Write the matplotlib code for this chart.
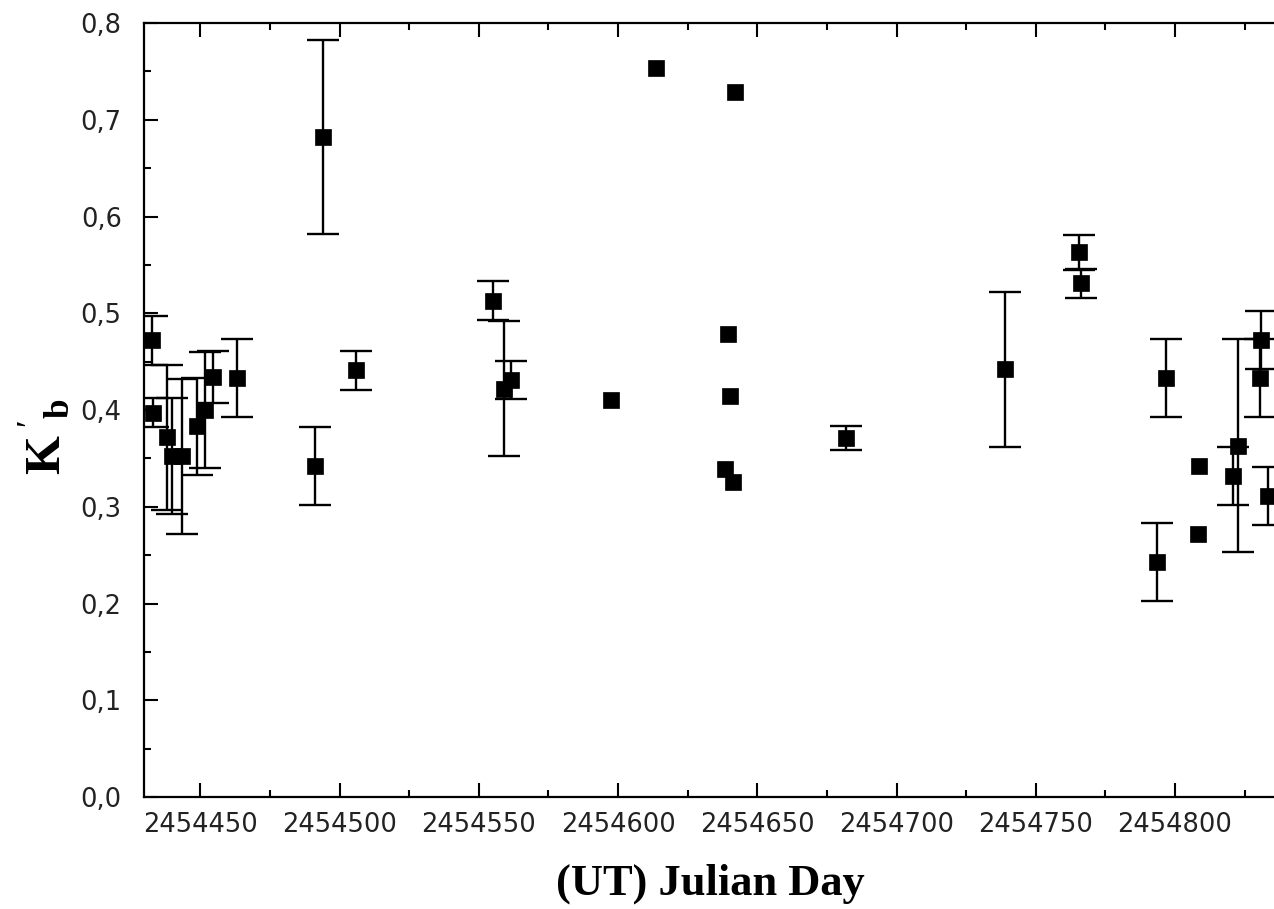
import matplotlib
matplotlib.use("Agg")
import matplotlib.pyplot as plt
from matplotlib.ticker import MultipleLocator, FuncFormatter

# Julian day (UT), K'_b value, symmetric error
jd = [2454432.5, 2454433.0, 2454437.9, 2454439.7, 2454443.3, 2454448.7,
      2454451.5, 2454454.4, 2454463.0, 2454491.0, 2454494.0, 2454506.0,
      2454555.0, 2454559.0, 2454561.7, 2454597.6, 2454613.7, 2454642.0,
      2454639.5, 2454640.2, 2454638.5, 2454641.4, 2454682.0, 2454739.0,
      2454765.5, 2454766.2, 2454793.5, 2454796.7, 2454808.6, 2454808.2,
      2454822.5, 2454820.8, 2454830.8, 2454830.5, 2454833.3]
kb = [0.472, 0.397, 0.372, 0.352, 0.352, 0.383,
      0.400, 0.434, 0.433, 0.342, 0.682, 0.441,
      0.513, 0.422, 0.431, 0.410, 0.753, 0.729,
      0.479, 0.414, 0.339, 0.326, 0.371, 0.442,
      0.563, 0.531, 0.243, 0.433, 0.342, 0.272,
      0.363, 0.332, 0.472, 0.433, 0.311]
err = [0.025, 0.015, 0.075, 0.060, 0.080, 0.050,
       0.060, 0.027, 0.040, 0.040, 0.100, 0.020,
       0.020, 0.070, 0.020, 0.000, 0.000, 0.000,
       0.000, 0.000, 0.000, 0.000, 0.012, 0.080,
       0.018, 0.015, 0.040, 0.040, 0.000, 0.000,
       0.110, 0.030, 0.030, 0.040, 0.030]

xticks = [2454450, 2454500, 2454550, 2454600, 2454650, 2454700, 2454750, 2454800]
yticks = [0.0, 0.1, 0.2, 0.3, 0.4, 0.5, 0.6, 0.7, 0.8]

plt.rcParams['mathtext.fontset'] = 'custom'
plt.rcParams['mathtext.rm'] = 'Liberation Serif'
plt.rcParams['mathtext.bf'] = 'Liberation Serif:bold'

fig = plt.figure(figsize=(12.74, 9.09), dpi=100)
ax = fig.add_axes([0.113, 0.1232, 0.889, 0.8515])

# error bars only where the error is non-zero
has_err = [e > 0 for e in err]
ex = [x for x, h in zip(jd, has_err) if h]
ey = [y for y, h in zip(kb, has_err) if h]
ee = [e for e, h in zip(err, has_err) if h]
ax.errorbar(ex, ey, yerr=ee, fmt='none', ecolor='black',
            elinewidth=1.7, capsize=11.5, capthick=1.7)
ax.plot(jd, kb, 's', color='black', markersize=12, markeredgecolor='black',
        markeredgewidth=0.5, zorder=3)

ax.set_xlim(2454429.7, 2454836.5)
ax.set_ylim(0.0, 0.8)
ax.set_xticks(xticks)
ax.set_yticks(yticks)
ax.xaxis.set_minor_locator(MultipleLocator(25))
ax.yaxis.set_minor_locator(MultipleLocator(0.05))
ax.xaxis.set_major_formatter(FuncFormatter(lambda v, p: f"{int(round(v))}"))
ax.yaxis.set_major_formatter(FuncFormatter(lambda v, p: f"{v:.1f}".replace('.', ',')))

ax.tick_params(which='both', direction='in', top=True, right=False, width=1.5)
ax.tick_params(which='major', length=10)
ax.tick_params(which='minor', length=5)
ax.tick_params(axis='x', which='major', pad=11, labelsize=18.5)
ax.tick_params(axis='y', which='major', pad=16, labelsize=18.5)
for lab in ax.get_xticklabels() + ax.get_yticklabels():
    lab.set_fontfamily('DejaVu Sans')
    lab.set_color('#222222')

for s in ['left', 'bottom', 'top']:
    ax.spines[s].set_linewidth(1.6)
ax.spines['right'].set_visible(False)

ax.set_xlabel('(UT) Julian Day', fontsize=32, fontweight='bold',
              fontfamily='Liberation Serif', labelpad=18)
fig.text(0.035, 0.52, r"$\mathbf{K}\,'{}_{\mathbf{b}}$", rotation=90,
         fontsize=36, ha='center', va='center')

fig.savefig('out.png', dpi=100, facecolor='white')
